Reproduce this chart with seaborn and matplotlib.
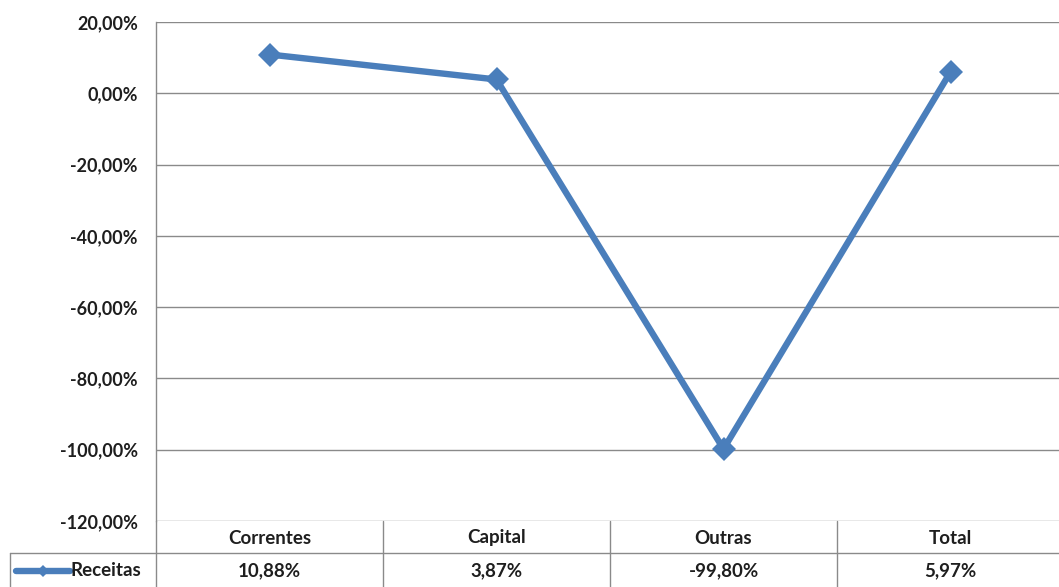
import matplotlib
matplotlib.use("Agg")
import matplotlib.pyplot as plt
import seaborn as sns
import pandas as pd
from matplotlib.lines import Line2D

categories = ["Correntes", "Capital", "Outras", "Total"]
receitas = [10.88, 3.87, -99.80, 5.97]
series_name = "Receitas"
y_ticks = [20, 0, -20, -40, -60, -80, -100, -120]

sns.set_theme(style="white")
plt.rcParams["font.family"] = ["Lato", "DejaVu Sans"]

W, H = 1059, 587
fig = plt.figure(figsize=(W / 100, H / 100), dpi=100)

left_px, right_px, top_px, bottom_px = 156, 1064, 22, 521
ax = fig.add_axes([left_px / W, (H - bottom_px) / H,
                   (right_px - left_px) / W, (bottom_px - top_px) / H])

blue = "#4A7EBB"
grid_c = "#8a8a8a"
text_c = "#1e1e1e"

df = pd.DataFrame({"pos": range(len(categories)), "val": receitas})
sns.lineplot(data=df, x="pos", y="val", ax=ax, color=blue, linewidth=4.6,
             marker="D", markersize=12, markeredgewidth=0, zorder=3)

ax.set_xlim(-0.5, len(categories) - 0.5)
ax.set_ylim(-120, 20)
ax.set_yticks(y_ticks)
ax.set_yticklabels([f"{t:.2f}%".replace(".", ",") for t in y_ticks],
                   fontsize=13, fontweight="bold", color=text_c)
ax.tick_params(axis="y", length=0, pad=13)
ax.set_xticks([])
ax.set_xlabel("")
ax.set_ylabel("")
for t in y_ticks:
    ax.axhline(t, color=grid_c, linewidth=1, zorder=1)
for s in ["top", "right", "bottom"]:
    ax.spines[s].set_visible(False)
ax.spines["left"].set_color(grid_c)
ax.spines["left"].set_linewidth(1)

# data table beneath the plot (pixel geometry converted to figure fractions)
def fx(px):
    return px / W

def fy(py):
    return (H - py) / H

row1_top, row2_top, row2_bot = 521, 553, 590
legend_left = 10
col_w = (right_px - left_px) / len(categories)

lines = [
    ((left_px, left_px), (row1_top, row2_bot)),
    ((legend_left, right_px), (row2_top, row2_top)),
    ((legend_left, legend_left), (row2_top, row2_bot)),
]
for i in range(1, len(categories)):
    xb = left_px + i * col_w
    lines.append(((xb, xb), (row1_top, row2_bot)))
for (x0, x1), (y0, y1) in lines:
    fig.add_artist(Line2D([fx(x0), fx(x1)], [fy(y0), fy(y1)],
                          transform=fig.transFigure, color=grid_c, linewidth=1))

for i, (cat, v) in enumerate(zip(categories, receitas)):
    cx = left_px + (i + 0.5) * col_w
    fig.text(fx(cx), fy((row1_top + row2_top) / 2 + 1), cat, ha="center", va="center",
             fontsize=13.5, fontweight="bold", color=text_c)
    fig.text(fx(cx), fy((row2_top + 587) / 2 + 1), f"{v:.2f}%".replace(".", ","),
             ha="center", va="center", fontsize=13.5, fontweight="bold", color=text_c)

# legend key inside the table
ky = fy(571)
fig.add_artist(Line2D([fx(16), fx(70)], [ky, ky], transform=fig.transFigure,
                      color=blue, linewidth=4.6))
fig.add_artist(Line2D([fx(43)], [ky], transform=fig.transFigure, color=blue,
                      marker="D", markersize=6, markeredgewidth=0, linestyle="none"))
fig.text(fx(71), ky, series_name, ha="left", va="center",
         fontsize=13.5, fontweight="bold", color=text_c)

fig.savefig("out.png", dpi=100, facecolor="white")
